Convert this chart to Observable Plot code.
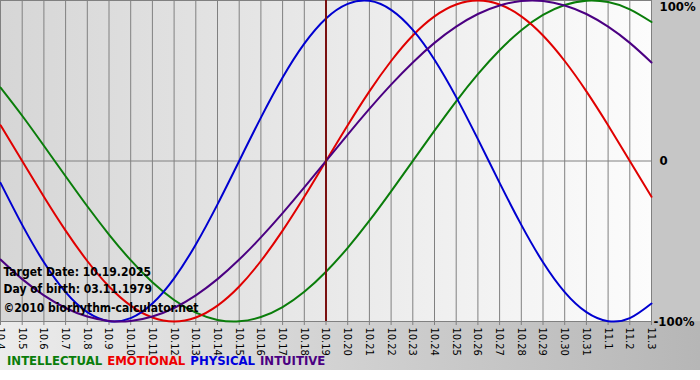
<!DOCTYPE html>
<html>
<head>
<meta charset="utf-8">
<script src="https://cdn.jsdelivr.net/npm/d3@7"></script>
<script src="https://cdn.jsdelivr.net/npm/@observablehq/plot@0.6"></script>
<style>
  body { margin: 0; background: #fff; }
  #wrap {
    width: 700px; height: 370px; position: relative;
    background:
      linear-gradient(to right, #d6d6d6, #fcfcfc) 0 0 / 651px 321px no-repeat,
      linear-gradient(to right, #ececec, #b6b6b6) 0 321px / 700px 49px no-repeat,
      #c6c6c6;
  }
  #legend {
    height: 20px; padding-left: 7px; box-sizing: border-box;
    font: bold 13px "DejaVu Sans Condensed", "DejaVu Sans", sans-serif;
    line-height: 22px; white-space: nowrap;
  }
  #legend span { margin-right: 5px; }
</style>
</head>
<body>
<div id="wrap"></div>
<script>
// Data
const days = ["10.4","10.5","10.6","10.7","10.8","10.9","10.10","10.11","10.12","10.13","10.14","10.15","10.16","10.17","10.18","10.19","10.20","10.21","10.22","10.23","10.24","10.25","10.26","10.27","10.28","10.29","10.30","10.31","11.1","11.2","11.3"];
const targetDay = "10.19";
const physical = [-0.136,-0.398,-0.631,-0.817,-0.942,-0.998,-0.979,-0.888,-0.731,-0.520,-0.270,0,0.270,0.520,0.731,0.888,0.979,0.998,0.942,0.817,0.631,0.398,0.136,-0.136,-0.398,-0.631,-0.817,-0.942,-0.998,-0.979,-0.888];
const emotional = [0.223,0,-0.223,-0.434,-0.623,-0.782,-0.901,-0.975,-1,-0.975,-0.901,-0.782,-0.623,-0.434,-0.223,0,0.223,0.434,0.623,0.782,0.901,0.975,1,0.975,0.901,0.782,0.623,0.434,0.223,0,-0.223];
const intellectual = [0.458,0.282,0.095,-0.095,-0.282,-0.458,-0.618,-0.756,-0.866,-0.945,-0.990,-0.999,-0.972,-0.910,-0.815,-0.690,-0.541,-0.372,-0.189,0,0.189,0.372,0.541,0.690,0.815,0.910,0.972,0.999,0.990,0.945,0.866];
const intuitive = [-0.614,-0.736,-0.837,-0.916,-0.969,-0.997,-0.997,-0.969,-0.916,-0.837,-0.736,-0.614,-0.476,-0.325,-0.165,0,0.165,0.325,0.476,0.614,0.736,0.837,0.916,0.969,0.997,0.997,0.969,0.916,0.837,0.736,0.614];
const seriesNames = ["INTELLECTUAL","EMOTIONAL","PHYSICAL","INTUITIVE"];
const seriesColors = ["#0a7d0a","#e00000","#0000d0","#4b0082"];
const legendColors = ["#0a7d0a","#ee0000","#0000dd","#4b0082"];
const yTicks = [1, 0, -1];
const yTickLabels = ["100%","0","-100%"];
const infoLines = ["Target Date: 10.19.2025","Day of birth: 03.11.1979","©2010 biorhythm-calculator.net"];

const seriesValues = [intellectual, emotional, physical, intuitive];
const rows = [];
seriesNames.forEach((name, s) => {
  seriesValues[s].forEach((v, i) => rows.push({series: name, i, v}));
});
const targetIndex = days.indexOf(targetDay);
const font = '"DejaVu Sans Condensed", "DejaVu Sans", sans-serif';
const infoDy = [-46, -29, -10];
const yLabelDx = [4, 4, -2];

const svg = Plot.plot({
  width: 700, height: 350,
  marginLeft: 0, marginRight: 49, marginTop: 0, marginBottom: 29,
  style: {background: "transparent", fontFamily: font, fontSize: "11px", color: "#000", overflow: "visible"},
  x: {domain: [0, days.length - 1], label: null, axis: null},
  y: {domain: [-1, 1], label: null, axis: null},
  color: {domain: seriesNames, range: seriesColors},
  marks: [
    Plot.gridX(d3.range(days.length), {stroke: "#808080", strokeOpacity: 1}),
    Plot.ruleY([0], {stroke: "#808080"}),
    Plot.frame({stroke: "#808080"}),
    Plot.axisX(d3.range(days.length), {tickFormat: i => days[i], tickRotate: 90, tickSize: 4, tickPadding: 2, stroke: "#808080", fill: "#000", fontSize: 11, label: null}),
    Plot.line(rows, {x: "i", y: "v", z: "series", stroke: "series", strokeWidth: 2, curve: "natural"}),
    Plot.ruleX([targetIndex], {stroke: "#7a1010", strokeWidth: 2}),
    ...yTicks.map((t, k) => Plot.text([yTickLabels[k]], {
      y: () => t, frameAnchor: "right", text: d => d, dx: yLabelDx[k] + 4, textAnchor: "start",
      lineAnchor: k === 0 ? "top" : "middle", dy: k === 0 ? 1 : 0,
      fontSize: 13, fontWeight: "bold", fill: "#000"
    })),
    ...infoLines.map((line, k) => Plot.text([line], {
      frameAnchor: "bottom-left", text: d => d, dx: 3, dy: infoDy[k],
      lineAnchor: "bottom", textAnchor: "start", fontWeight: "bold", fontSize: 12, fill: "#000"
    }))
  ]
});
const wrap = document.getElementById("wrap");
wrap.appendChild(svg);

const legend = document.createElement("div");
legend.id = "legend";
seriesNames.forEach((n, s) => {
  const sp = document.createElement("span");
  sp.textContent = n;
  sp.style.color = legendColors[s];
  legend.appendChild(sp);
});
wrap.appendChild(legend);
</script>
</body>
</html>
